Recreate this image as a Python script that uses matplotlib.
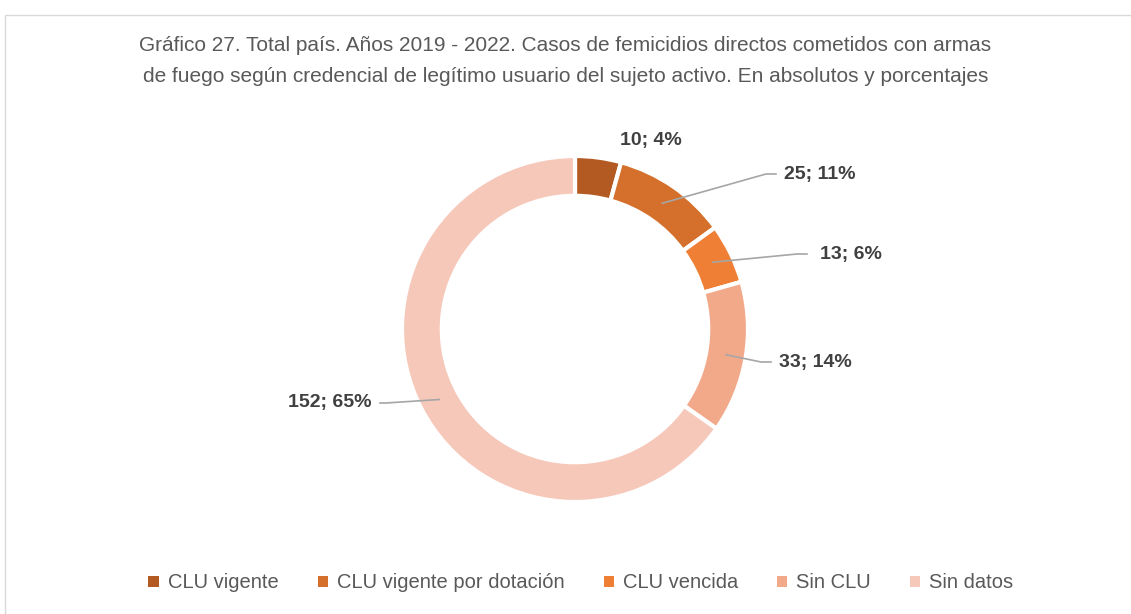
import numpy as np
import matplotlib.pyplot as plt
from matplotlib.patches import Rectangle

plt.rcParams['font.family'] = ['Liberation Sans', 'DejaVu Sans']

categorias = ["CLU vigente", "CLU vigente por dotación", "CLU vencida", "Sin CLU", "Sin datos"]
casos = [10, 25, 13, 33, 152]
colores = ["#B25A22", "#D4702B", "#EE7F35", "#F2A98A", "#F6C8B9"]
titulo = ("Gráfico 27. Total país. Años 2019 - 2022. Casos de femicidios directos cometidos con armas\n"
          "de fuego según credencial de legítimo usuario del sujeto activo. En absolutos y porcentajes")

W, H = 1131, 614
fig = plt.figure(figsize=(W / 100, H / 100), dpi=100)
ax = fig.add_axes([0, 0, 1, 1])

# frame of the chart area
ax.add_patch(Rectangle((4.5, -20), W + 20, H - 14 + 20 - 0.5, fill=False,
                       edgecolor="#D9D9D9", lw=1))

cx, cy, r = 575, H - 329, 173
ancho = 0.23
wedges, _ = ax.pie(casos, colors=colores, startangle=90, counterclock=False,
                   center=(cx, cy), radius=r, frame=True,
                   wedgeprops=dict(width=r * ancho, edgecolor="white", linewidth=3))
ax.set_xlim(0, W)
ax.set_ylim(0, H)
ax.set_aspect('equal')
ax.axis('off')

total = sum(casos)
# label positions (text centre) in pixels from the top-left
pos_etiquetas = [(651, 140), (820, 174), (851, 254), (815, 362), (330, 403)]
con_linea = [False, True, True, True, True]
for w, v, (lx, ly), linea in zip(wedges, casos, pos_etiquetas, con_linea):
    ang = np.deg2rad((w.theta1 + w.theta2) / 2)
    rm = r * (1 - ancho / 2)
    px, py = cx + rm * np.cos(ang), cy + rm * np.sin(ang)
    ty = H - ly
    texto = f"{v}; {round(100 * v / total)}%"
    ax.text(lx, ty, texto, ha='center', va='center', fontsize=14,
            fontweight='bold', color="#404040")
    if linea:
        if lx > cx:
            ex = lx - 44
            ax.plot([px, ex - 10, ex], [py, ty, ty], color="#A6A6A6", lw=1.2)
        else:
            ex = lx + 50
            ax.plot([px, ex + 6, ex], [py, ty, ty], color="#A6A6A6", lw=1.2)

fig.text(0.5, 1 - 61 / H, titulo, ha='center', va='center', fontsize=15,
         color="#595959", linespacing=1.75)

handles = [Rectangle((0, 0), 1, 1, facecolor=c, edgecolor='none') for c in colores]
fig.legend(handles, categorias, loc='center', bbox_to_anchor=(581 / W, 1 - 583 / H),
           ncol=5, frameon=False, fontsize=14.5, handlelength=0.5, handleheight=0.5,
           handletextpad=0.45, columnspacing=1.95, labelcolor="#595959")

fig.savefig("out.png", dpi=100)
